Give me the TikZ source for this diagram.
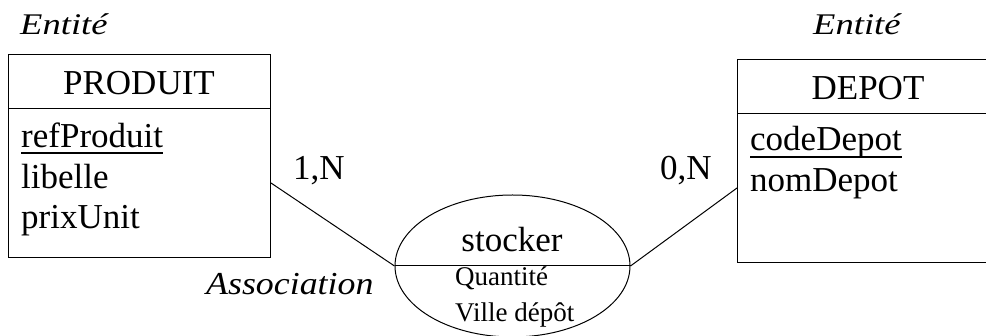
\documentclass[tikz,border=0pt]{standalone}
\usepackage{fontspec}
\setmainfont{Liberation Serif}
\usetikzlibrary{shapes.geometric}
\tikzset{
  frame/.style={draw, line width=1pt, inner sep=0pt, anchor=north west},
  big/.style={font=\fontsize{35}{40}\selectfont, inner sep=0pt},
  small/.style={font=\fontsize{27}{32}\selectfont, inner sep=0pt, anchor=base west},
  attr/.style={big, anchor=base west},
  lbl/.style={inner sep=0pt, anchor=base west},
  conn/.style={line width=1pt},
  key/.style={line width=2pt}
}
\newcommand{\entlbl}[1]{\fontsize{30}{32}\selectfont\itshape\scalebox{1.22}[1]{#1}}
\newcommand{\asslbl}[1]{\fontsize{32}{34}\selectfont\itshape\scalebox{1.12}[1]{#1}}
\begin{document}
\begin{tikzpicture}[x=1pt, y=-1pt]
\useasboundingbox (0,0) rectangle (986,336);
\clip (0,0) rectangle (986,336);
% labels
\node[lbl] (ent1) at (20,35) {\entlbl{Entité}};
\node[lbl] (ent2) at (813,35) {\entlbl{Entité}};
\node[lbl] (assoc) at (206,295) {\asslbl{Association}};
% PRODUIT
\node[frame, minimum width=262pt, minimum height=54pt] (phead) at (8,54) {};
\node[frame, minimum width=262pt, minimum height=149pt] (pbody) at (8,108) {};
\node[big, anchor=base] (ptitle) at (139,95) {PRODUIT};
\node[attr] (pa1) at (21,148) {refProduit};
\node[attr] (pa2) at (21,189) {libelle};
\node[attr] (pa3) at (21,229) {prixUnit};
\draw[key] ([yshift=-5pt]pa1.base west) -- ([yshift=-5pt]pa1.base east);
% DEPOT
\node[frame, minimum width=263pt, minimum height=54pt] (dhead) at (737,59) {};
\node[frame, minimum width=263pt, minimum height=149pt] (dbody) at (737,113) {};
\node[big, anchor=base] (dtitle) at (868,100) {DEPOT};
\node[attr] (da1) at (750,151) {codeDepot};
\node[attr] (da2) at (750,192) {nomDepot};
\draw[key] ([yshift=-6pt]da1.base west) -- ([yshift=-6pt]da1.base east);
% association
\node[draw, line width=1pt, ellipse, minimum width=235pt, minimum height=142pt, inner sep=0pt] (ell) at (512.5,266) {};
\draw[conn] (ell.west) -- (ell.east);
\node[big, anchor=base] (aname) at (512,252) {stocker};
\node[small] (aa1) at (455,286) {Quantité};
\node[small] (aa2) at (455,322) {Ville dépôt};
% cardinalities
\node[big, anchor=base west] (c1) at (293,180) {1,N};
\node[big, anchor=base west] (c2) at (660,180) {0,N};
% connectors
\coordinate (pend) at (pbody.east |- 0,183);
\coordinate (dend) at (dbody.west |- 0,188);
\draw[conn] (pend) -- (ell.west);
\draw[conn] (dend) -- (ell.east);
\end{tikzpicture}
\end{document}
